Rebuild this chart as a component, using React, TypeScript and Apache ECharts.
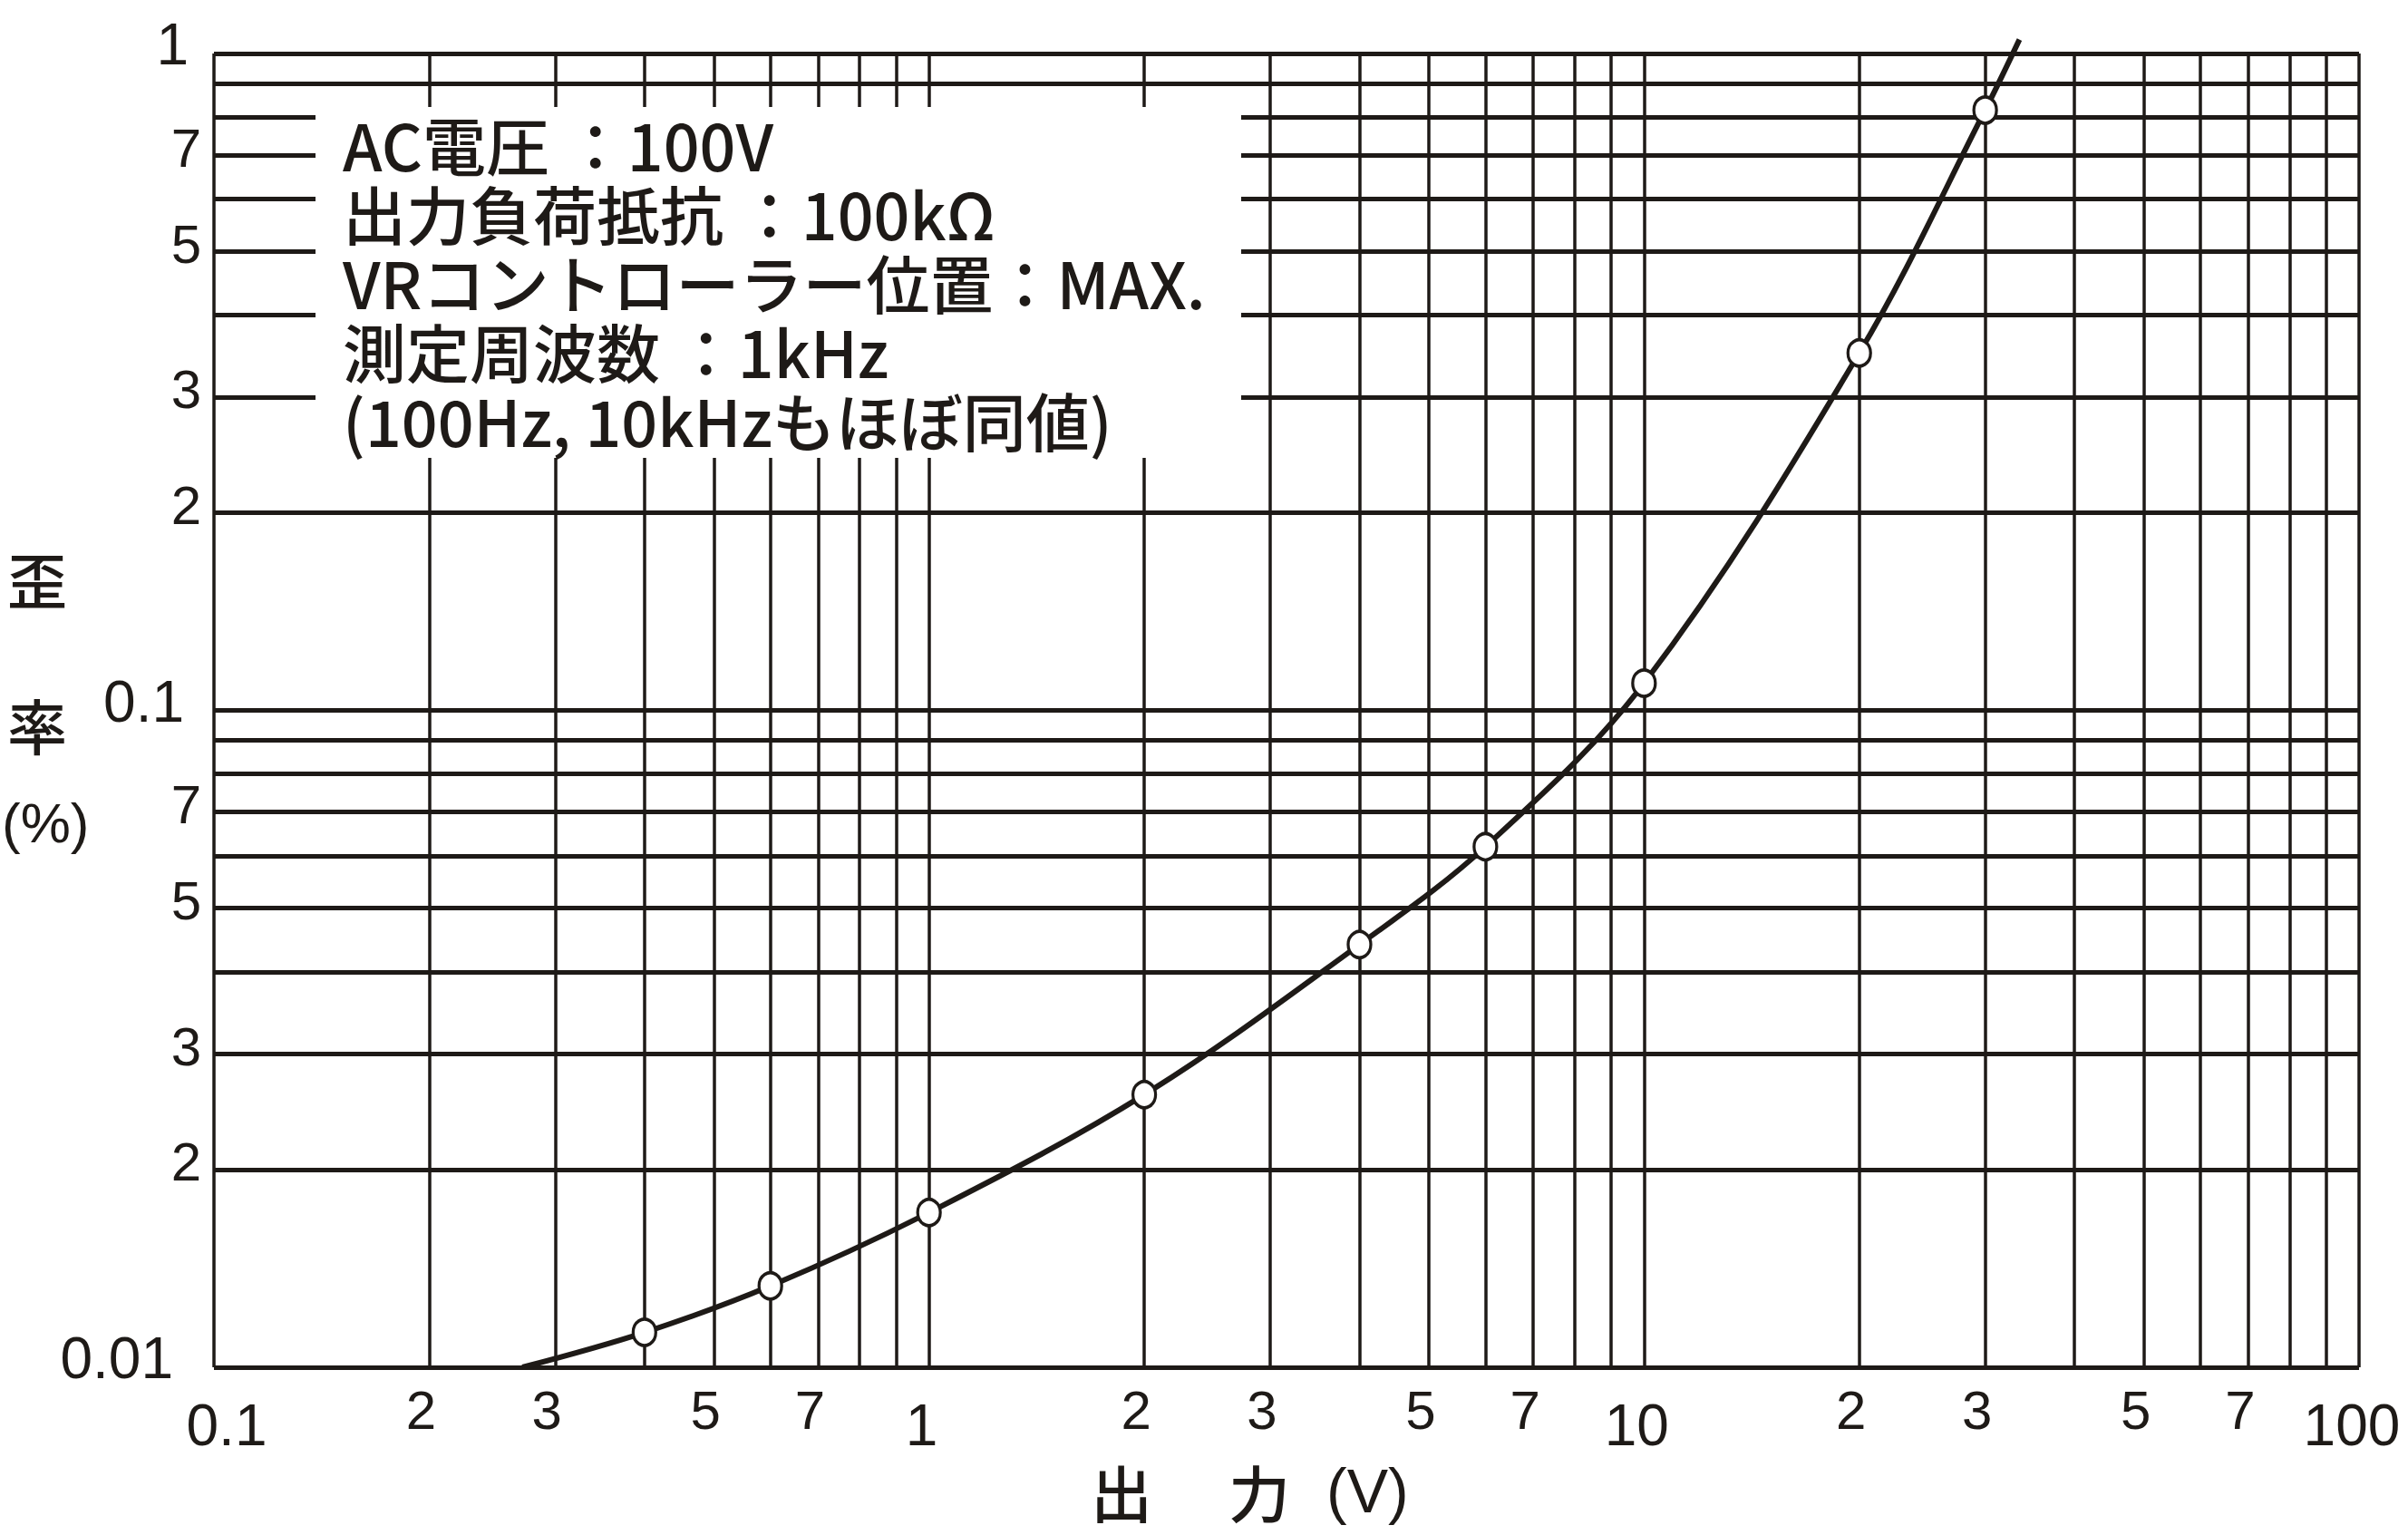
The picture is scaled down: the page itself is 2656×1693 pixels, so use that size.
import React, { useEffect, useRef } from 'react';
import * as echarts from 'echarts';

// ---- data ----
const outputV = [0.4, 0.6, 1, 2, 4, 6, 10, 20, 30];
const distortionPct = [0.0113, 0.0133, 0.0172, 0.026, 0.044, 0.062, 0.11, 0.35, 0.82];
const curveStart = [0.27, 0.01];
const curveEnd = [33.5, 1.05];

const xGridValues = [0.1, 0.2, 0.3, 0.4, 0.5, 0.6, 0.7, 0.8, 0.9, 1, 2, 3, 4, 5, 6, 7, 8, 9, 10, 20, 30, 40, 50, 60, 70, 80, 90, 100];
const yGridValues = [0.01, 0.02, 0.03, 0.04, 0.05, 0.06, 0.07, 0.08, 0.09, 0.1, 0.2, 0.3, 0.4, 0.5, 0.6, 0.7, 0.8, 0.9, 1];

const xMajorValues = [0.1, 1, 10, 100];
const xMajorTexts = ['0.1', '1', '10', '100'];
const xMinorValues = [0.2, 0.3, 0.5, 0.7, 2, 3, 5, 7, 20, 30, 50, 70];
const xMinorTexts = ['2', '3', '5', '7', '2', '3', '5', '7', '2', '3', '5', '7'];

const yMajorValues = [0.01, 0.1, 1];
const yMajorTexts = ['0.01', '0.1', '1'];
const yMinorValues = [0.02, 0.03, 0.05, 0.07, 0.2, 0.3, 0.5, 0.7];
const yMinorTexts = ['2', '3', '5', '7', '2', '3', '5', '7'];

const noteLines = [
  'AC電圧 ：100V',
  '出力負荷抵抗 ：100kΩ',
  'VRコントローラー位置：MAX.',
  '測定周波数 ：1kHz',
  '(100Hz, 10kHzもほぼ同値)',
];

const INK = '#1e1a17';
const NUM_FONT = "'Liberation Sans', Arial, Helvetica, sans-serif";
const CJK_FONT = "'Noto Sans CJK JP', 'Noto Sans', sans-serif";

function txt(x: number, y: number, text: string, font: string, align: string, lineHeight: number, valign = 'middle', z = 20) {
  return {
    type: 'text',
    x,
    y,
    z,
    silent: true,
    style: {
      text,
      font,
      fill: INK,
      align,
      verticalAlign: valign,
      textAlign: align,
      textVerticalAlign: valign,
      lineHeight,
    },
  };
}

export default function App() {
  const ref = useRef<HTMLDivElement>(null);

  useEffect(() => {
    if (!ref.current) return;
    const chart = echarts.init(ref.current, undefined, { renderer: 'svg' });

    const points = outputV.map((v, i) => [v, distortionPct[i]]);
    const curveData = [curveStart, ...points, curveEnd];

    const logAxis = (min: number, max: number) => ({
      type: 'log',
      logBase: 10,
      min,
      max,
      axisLine: { show: false },
      axisTick: { show: false },
      axisLabel: { show: false },
      splitLine: { show: false },
    });

    chart.setOption({
      animation: false,
      backgroundColor: '#ffffff',
      grid: { left: 236, right: 54, top: 59, bottom: 185 },
      xAxis: logAxis(0.1, 100),
      yAxis: logAxis(0.01, 1),
      series: [
        {
          name: 'curve',
          type: 'line',
          data: curveData,
          smooth: 0.35,
          showSymbol: false,
          clip: false,
          z: 10,
          silent: true,
          lineStyle: { color: INK, width: 6 },
          markLine: {
            silent: true,
            z: 1,
            symbol: ['none', 'none'],
            label: { show: false },
            emphasis: { disabled: true },
            animation: false,
            data: [
              ...xGridValues.map((v) => ({ xAxis: v, lineStyle: { color: INK, width: 3.5, type: 'solid' } })),
              ...yGridValues.map((v) => ({ yAxis: v, lineStyle: { color: INK, width: 5, type: 'solid' } })),
            ],
          },
        },
        {
          name: '歪率',
          type: 'scatter',
          data: points,
          symbol: 'circle',
          symbolSize: [25, 29],
          z: 11,
          silent: true,
          itemStyle: { color: '#ffffff', borderColor: INK, borderWidth: 3.5, opacity: 1 },
        },
      ],
    });

    const px = (v: number) => chart.convertToPixel({ xAxisIndex: 0 }, v) as number;
    const py = (v: number) => chart.convertToPixel({ yAxisIndex: 0 }, v) as number;

    const els: any[] = [];
    // white panel behind the notes, interrupting the grid
    els.push({
      type: 'rect',
      z: 3,
      silent: true,
      shape: { x: 348, y: 118, width: 1021, height: 387 },
      style: { fill: '#ffffff' },
    });
    noteLines.forEach((t, i) => {
      els.push(txt(378, 158 + i * 76, t, `500 70px ${CJK_FONT}`, 'left', 72));
    });

    // x labels
    xMajorValues.forEach((v, i) => {
      const dx = i === 0 ? 14 : -8;
      els.push(txt(px(v) + dx, 1572, xMajorTexts[i], `64px ${NUM_FONT}`, 'center', 64));
    });
    xMinorValues.forEach((v, i) => {
      els.push(txt(px(v) - 9, 1555, xMinorTexts[i], `60px ${NUM_FONT}`, 'center', 60));
    });

    // y labels
    const yMajorRight = [191, 203, 208];
    yMajorValues.forEach((v, i) => {
      els.push(txt(yMajorRight[i], py(v) - 10, yMajorTexts[i], `64px ${NUM_FONT}`, 'right', 64));
    });
    yMinorValues.forEach((v, i) => {
      els.push(txt(222, py(v) - 8, yMinorTexts[i], `60px ${NUM_FONT}`, 'right', 60));
    });

    // axis titles
    els.push(txt(41, 637, '歪', `500 66px ${CJK_FONT}`, 'center', 66));
    els.push(txt(41, 798, '率', `500 66px ${CJK_FONT}`, 'center', 66));
    els.push(txt(2, 907, '(%)', `62px ${NUM_FONT}`, 'left', 62));
    els.push(txt(1203, 1644, '出', `500 68px ${CJK_FONT}`, 'left', 68));
    els.push(txt(1355, 1644, '力', `500 68px ${CJK_FONT}`, 'left', 68));
    els.push(txt(1463, 1644, '(V)', `68px ${NUM_FONT}`, 'left', 68));

    chart.setOption({ graphic: els });

    return () => chart.dispose();
  }, []);

  return (
    <div
      ref={ref}
      style={{ position: 'fixed', left: 0, top: 0, width: 2656, height: 1693, background: '#ffffff' }}
    />
  );
}
